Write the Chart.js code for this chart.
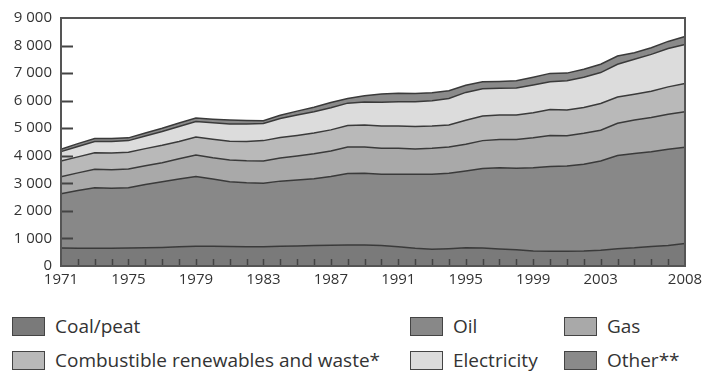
<!DOCTYPE html>
<html>
<head>
<meta charset="utf-8">
<script src="https://cdn.jsdelivr.net/npm/chart.js@4"></script>
<style>
  html, body { margin: 0; padding: 0; background: #fff; }
  body { width: 703px; height: 374px; position: relative; overflow: hidden; font-family: "Open Sans", sans-serif; color: #333; }
  #wrap { position: absolute; left: 0; top: 0; width: 703px; height: 300px; }
  .lg { position: absolute; display: flex; align-items: center; font-size: 19px; white-space: nowrap; }
  .lg .box { width: 31px; height: 17px; border: 1.5px solid #444; margin-right: 10px; }
</style>
</head>
<body>
<div id="wrap"><canvas id="chart" width="703" height="300"></canvas></div>
<div id="legend"></div>
<script>
const years = [];
for (let y = 1971; y <= 2008; y++) years.push(String(y));
const shownYears = ['1971', '1975', '1979', '1983', '1987', '1991', '1995', '1999', '2003', '2008'];

// Mtoe
const coal = [650, 640, 640, 645, 650, 660, 675, 700, 715, 715, 705, 695, 695, 715, 730, 740, 750, 765, 760, 740,
  700, 640, 610, 630, 660, 650, 620, 590, 545, 535, 535, 545, 570, 630, 660, 710, 740, 820];
const oil = [1970, 2100, 2200, 2175, 2190, 2300, 2385, 2460, 2535, 2445, 2355, 2325, 2305, 2365, 2390, 2430, 2500, 2595, 2610, 2590,
  2630, 2690, 2720, 2740, 2790, 2890, 2950, 2960, 3025, 3075, 3095, 3145, 3240, 3380, 3420, 3440, 3500, 3490];
const gas = [620, 640, 670, 670, 680, 680, 690, 730, 780, 770, 790, 800, 810, 840, 870, 900, 920, 960, 950, 940,
  940, 920, 940, 950, 970, 1010, 1020, 1040, 1080, 1130, 1100, 1130, 1120, 1170, 1220, 1240, 1270, 1290];
const renewables = [570, 580, 600, 610, 610, 620, 630, 630, 650, 670, 680, 700, 740, 740, 750, 760, 770, 780, 800, 810,
  810, 810, 810, 800, 870, 890, 890, 890, 910, 940, 930, 930, 970, 950, 930, 950, 990, 1020];
const electricity = [340, 380, 410, 420, 420, 460, 500, 540, 560, 600, 620, 630, 620, 690, 740, 770, 800, 810, 830, 860,
  880, 900, 920, 960, 1010, 990, 970, 980, 1010, 1010, 1060, 1100, 1120, 1190, 1270, 1340, 1390, 1420];
const other = [90, 100, 110, 110, 100, 110, 120, 130, 130, 130, 150, 130, 100, 120, 140, 160, 190, 170, 230, 300,
  310, 300, 290, 280, 260, 260, 250, 260, 280, 300, 280, 290, 300, 300, 240, 240, 260, 290];

const yTicks = [0, 1000, 2000, 3000, 4000, 5000, 6000, 7000, 8000, 9000];

const seriesNames = ['Coal/peat', 'Oil', 'Gas', 'Combustible renewables and waste*', 'Electricity', 'Other**'];
const seriesData = [coal, oil, gas, renewables, electricity, other];
const seriesColors = ['#7a7a7a', '#888888', '#a9a9a9', '#b9b9b9', '#dcdcdc', '#8a8a8a'];

const frame = {
  id: 'frame',
  afterDatasetsDraw(chart) {
    const { ctx, chartArea: a, scales } = chart;
    ctx.save();
    ctx.strokeStyle = '#444';
    ctx.lineWidth = 2;
    ctx.beginPath();
    yTicks.slice(1, -1).forEach((v) => {
      const y = Math.round(scales.y.getPixelForValue(v)) + 0.5;
      ctx.moveTo(a.left, y);
      ctx.lineTo(a.left + 12, y);
    });
    ctx.stroke();
    ctx.lineWidth = 1.5;
    ctx.beginPath();
    years.slice(1, -1).forEach((yr, i) => {
      const x = Math.round(scales.x.getPixelForValue(i + 1)) + 0.5;
      ctx.moveTo(x, a.bottom);
      ctx.lineTo(x, a.bottom - 7);
    });
    ctx.stroke();
    ctx.strokeStyle = '#555';
    ctx.lineWidth = 2;
    ctx.strokeRect(a.left, a.top, a.right - a.left, a.bottom - a.top);
    ctx.restore();
  }
};

new Chart(document.getElementById('chart'), {
  type: 'line',
  data: {
    labels: years,
    datasets: seriesData.map((d, i) => ({
      label: seriesNames[i],
      data: d,
      backgroundColor: seriesColors[i],
      borderColor: '#3a3a3a',
      borderWidth: 1.5,
      pointRadius: 0,
      fill: i === 0 ? 'origin' : '-1',
      tension: 0
    }))
  },
  options: {
    responsive: false,
    animation: false,
    layout: { padding: { left: 0, top: 16, right: 18, bottom: 0 } },
    plugins: { legend: { display: false }, tooltip: { enabled: false } },
    scales: {
      x: {
        grid: { display: false, drawTicks: false },
        border: { display: false },
        afterFit: (s) => { s.height = 34; s.paddingRight = 0; },
        ticks: {
          autoSkip: false,
          maxRotation: 0,
          padding: 5,
          color: '#333',
          font: { family: 'Open Sans', size: 15 },
          callback: (v, i) => (shownYears.includes(years[i]) ? years[i] : '')
        }
      },
      y: {
        stacked: true,
        min: 0,
        max: 9000,
        grid: { display: false, drawTicks: false },
        border: { display: false },
        afterFit: (s) => { s.width = 61; },
        afterBuildTicks: (s) => { s.ticks = yTicks.map((v) => ({ value: v })); },
        ticks: {
          padding: 9,
          color: '#333',
          font: { family: 'Open Sans', size: 15 },
          callback: (v) => (v >= 1000 ? Math.floor(v / 1000) + ' 000' : String(v))
        }
      }
    }
  },
  plugins: [frame]
});

// legend, laid out as in the original: 2 rows x 3 columns
const legendPos = [[12, 313], [410, 313], [564, 313], [12, 347], [410, 347], [564, 347]];
document.getElementById('legend').innerHTML = seriesNames.map((name, k) => `
  <div class="lg" style="left:${legendPos[k][0]}px;top:${legendPos[k][1]}px;">
    <span class="box" style="background:${seriesColors[k]}"></span>${name}
  </div>`).join('');
</script>
</body>
</html>
